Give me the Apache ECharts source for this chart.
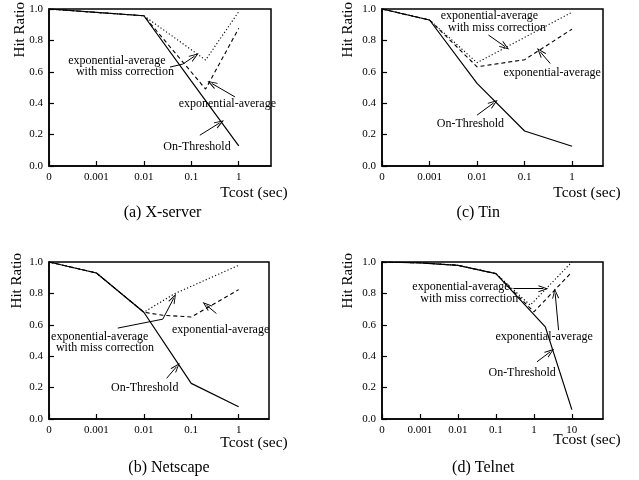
<!DOCTYPE html>
<html><head><meta charset="utf-8">
<script src="https://cdn.jsdelivr.net/npm/echarts@6/dist/echarts.min.js"></script>
<style>html,body{margin:0;padding:0;background:#fff}#c{width:639px;height:480px}</style>
</head><body><div id="c"></div>
<script>
// Tick labels (x axis is log-spaced, "0" at the origin)
const tickLabelsABC = ['0', '0.001', '0.01', '0.1', '1'];
const tickLabelsD = ['0', '0.001', '0.01', '0.1', '1', '10'];
const yTicks = [0.0, 0.2, 0.4, 0.6, 0.8, 1.0];

// (a) X-server
const xsOnT = [0, 0.001, 0.01, 0.1, 1];
const xsOnY = [1.0, 0.978, 0.957, 0.54, 0.128];
const xsEaT = [0, 0.001, 0.01, 0.2, 1];
const xsEaY = [1.0, 0.978, 0.957, 0.49, 0.877];
const xsMcT = [0, 0.001, 0.01, 0.2, 1];
const xsMcY = [1.0, 0.978, 0.957, 0.675, 0.983];

// (c) Tin
const tinOnT = [0, 0.001, 0.01, 0.1, 1];
const tinOnY = [1.0, 0.93, 0.526, 0.223, 0.126];
const tinEaT = [0, 0.001, 0.01, 0.1, 1];
const tinEaY = [1.0, 0.93, 0.632, 0.677, 0.872];
const tinMcT = [0, 0.001, 0.01, 1];
const tinMcY = [1.0, 0.93, 0.658, 0.98];

// (b) Netscape
const nsOnT = [0, 0.001, 0.01, 0.1, 1];
const nsOnY = [1.0, 0.93, 0.68, 0.227, 0.078];
const nsEaT = [0, 0.001, 0.01, 0.025, 0.1, 1];
const nsEaY = [1.0, 0.93, 0.68, 0.661, 0.65, 0.824];
const nsMcT = [0, 0.001, 0.01, 0.045, 1];
const nsMcY = [1.0, 0.93, 0.68, 0.799, 0.979];

// (d) Telnet
const tnOnT = [0, 0.001, 0.01, 0.1, 2, 10];
const tnOnY = [1.0, 0.995, 0.979, 0.926, 0.587, 0.06];
const tnEaT = [0, 0.001, 0.01, 0.1, 1, 10];
const tnEaY = [1.0, 0.995, 0.979, 0.926, 0.682, 0.936];
const tnMcT = [0, 0.001, 0.01, 0.1, 0.8, 10];
const tnMcY = [1.0, 0.995, 0.979, 0.926, 0.725, 1.0];

const FONT = '"Liberation Serif", "Times New Roman", serif';
const ARROW = 'path://M5,0 L10,12 L8.6,12 L5,3.2 L1.4,12 L0,12 Z';

function pos(t) { return t === 0 ? 0 : Math.log10(t) + 4; }
function pts(ts, ys) { return ts.map((t, i) => [pos(t), ys[i]]); }

const panels = [
  { grid: {left: 49, top: 9, width: 222, height: 157}, xmax: 4.68, ticks: tickLabelsABC,
    on: pts(xsOnT, xsOnY), ea: pts(xsEaT, xsEaY), mc: pts(xsMcT, xsMcY),
    texts: [['exponential-average', 1.43, 0.668], ['with miss correction', 1.60, 0.60],
            ['exponential-average', 3.76, 0.398], ['On-Threshold', 3.12, 0.122]],
    arrows: [[[2.55, 0.63], [2.82, 0.649], false], [[2.82, 0.649], [3.07, 0.70], true],
             [[3.92, 0.44], [3.43, 0.526], true], [[3.18, 0.196], [3.60, 0.275], true]],
    yname: [20, 2], xname: [254, 193], caption: [162.5, 213, '(a) X-server'] },
  { grid: {left: 382, top: 9, width: 221, height: 157}, xmax: 4.65, ticks: tickLabelsABC,
    on: pts(tinOnT, tinOnY), ea: pts(tinEaT, tinEaY), mc: pts(tinMcT, tinMcY),
    texts: [['exponential-average', 2.26, 0.957], ['with miss correction', 2.42, 0.877],
            ['exponential-average', 3.58, 0.596], ['On-Threshold', 1.86, 0.27]],
    arrows: [[[2.24, 0.834], [2.59, 0.76], true], [[3.54, 0.653], [3.33, 0.727], true],
             [[2.0, 0.324], [2.35, 0.402], true]],
    yname: [348.3, 2], xname: [587, 193], caption: [478.3, 213, '(c) Tin'] },
  { grid: {left: 49, top: 262, width: 220, height: 157}, xmax: 4.64, ticks: tickLabelsABC,
    on: pts(nsOnT, nsOnY), ea: pts(nsEaT, nsEaY), mc: pts(nsMcT, nsMcY),
    texts: [['exponential-average', 1.07, 0.525], ['with miss correction', 1.18, 0.451],
            ['exponential-average', 3.62, 0.57], ['On-Threshold', 2.02, 0.199]],
    arrows: [[[1.45, 0.579], [2.40, 0.636], false], [[2.40, 0.636], [2.63, 0.769], true],
             [[3.53, 0.672], [3.32, 0.725], true], [[2.48, 0.259], [2.69, 0.333], true]],
    yname: [16.7, 253], xname: [254, 443], caption: [169, 468, '(b) Netscape'] },
  { grid: {left: 382, top: 262, width: 221, height: 157}, xmax: 5.82, ticks: tickLabelsD,
    on: pts(tnOnT, tnOnY), ea: pts(tnEaT, tnEaY), mc: pts(tnMcT, tnMcY),
    texts: [['exponential-average', 2.08, 0.841], ['with miss correction', 2.30, 0.767],
            ['exponential-average', 4.27, 0.523], ['On-Threshold', 3.69, 0.297]],
    arrows: [[[3.46, 0.83], [4.25, 0.83], true], [[4.65, 0.566], [4.56, 0.80], true],
             [[4.08, 0.364], [4.43, 0.428], true]],
    yname: [348.3, 253], xname: [587, 440], caption: [483.3, 468, '(d) Telnet'] }
];

const grid = [], xAxis = [], yAxis = [], series = [], graphic = [];
panels.forEach((p, i) => {
  grid.push(Object.assign({show: true, borderColor: '#000', borderWidth: 1.5, backgroundColor: 'transparent', containLabel: false}, p.grid));
  xAxis.push({
    gridIndex: i, type: 'value', min: 0, max: p.xmax, interval: 1,
    axisLine: {show: true, onZero: false, lineStyle: {color: '#000', width: 1.5}},
    axisTick: {show: true, inside: true, length: 5, lineStyle: {color: '#000', width: 1.2}},
    axisLabel: {show: true, showMaxLabel: false, margin: 6, color: '#000', fontFamily: FONT, fontSize: 11,
      formatter: v => (Math.abs(v - Math.round(v)) < 1e-6 && p.ticks[Math.round(v)] !== undefined) ? p.ticks[Math.round(v)] : ''},
    splitLine: {show: false}
  });
  yAxis.push({
    gridIndex: i, type: 'value', min: yTicks[0], max: yTicks[yTicks.length - 1], interval: 0.2,
    axisLine: {show: true, onZero: false, lineStyle: {color: '#000', width: 1.5}},
    axisTick: {show: true, inside: true, length: 5, lineStyle: {color: '#000', width: 1.2}},
    axisLabel: {show: true, margin: 6, color: '#000', fontFamily: FONT, fontSize: 11, formatter: v => v.toFixed(1)},
    splitLine: {show: false}
  });
  const base = {type: 'line', xAxisIndex: i, yAxisIndex: i, showSymbol: false, symbol: 'none', animation: false, silent: true};
  series.push(Object.assign({}, base, {
    name: 'On-Threshold', data: p.on, lineStyle: {color: '#000', width: 1.2, type: 'solid'},
    markPoint: {
      silent: true, animation: false,
      data: p.texts.map(t => ({coord: [t[1], t[2]], symbol: 'circle', symbolSize: 1,
        itemStyle: {color: 'rgba(0,0,0,0)'},
        label: {show: true, position: 'inside', formatter: t[0], color: '#000', fontFamily: FONT, fontSize: 12}}))
    },
    markLine: {
      silent: true, animation: false, symbol: ['none', 'none'], label: {show: false},
      lineStyle: {color: '#000', width: 1, type: 'solid'},
      data: p.arrows.map(a => [{coord: a[0], symbol: 'none'},
                               {coord: a[1], symbol: a[2] ? ARROW : 'none', symbolSize: [7, 10]}])
    }
  }));
  series.push(Object.assign({}, base, {name: 'exponential-average', data: p.ea, lineStyle: {color: '#000', width: 1.1, type: [4, 3]}}));
  series.push(Object.assign({}, base, {name: 'exponential-average with miss correction', data: p.mc, lineStyle: {color: '#000', width: 1.1, type: [1.2, 2.2]}}));

  graphic.push({type: 'text', x: p.yname[0], y: p.yname[1], rotation: Math.PI / 2,
    style: {text: 'Hit Ratio', align: 'right', verticalAlign: 'middle', fill: '#000', font: '15px ' + FONT}});
  graphic.push({type: 'text', x: p.xname[0], y: p.xname[1],
    style: {text: 'Tcost (sec)', align: 'center', verticalAlign: 'middle', fill: '#000', font: '15.5px ' + FONT}});
  graphic.push({type: 'text', x: p.caption[0], y: p.caption[1],
    style: {text: p.caption[2], align: 'center', verticalAlign: 'middle', fill: '#000', font: '16px ' + FONT}});
});

const chart = echarts.init(document.getElementById('c'), null, {renderer: 'canvas'});
chart.setOption({backgroundColor: '#fff', animation: false, grid, xAxis, yAxis, series, graphic});
</script></body></html>
